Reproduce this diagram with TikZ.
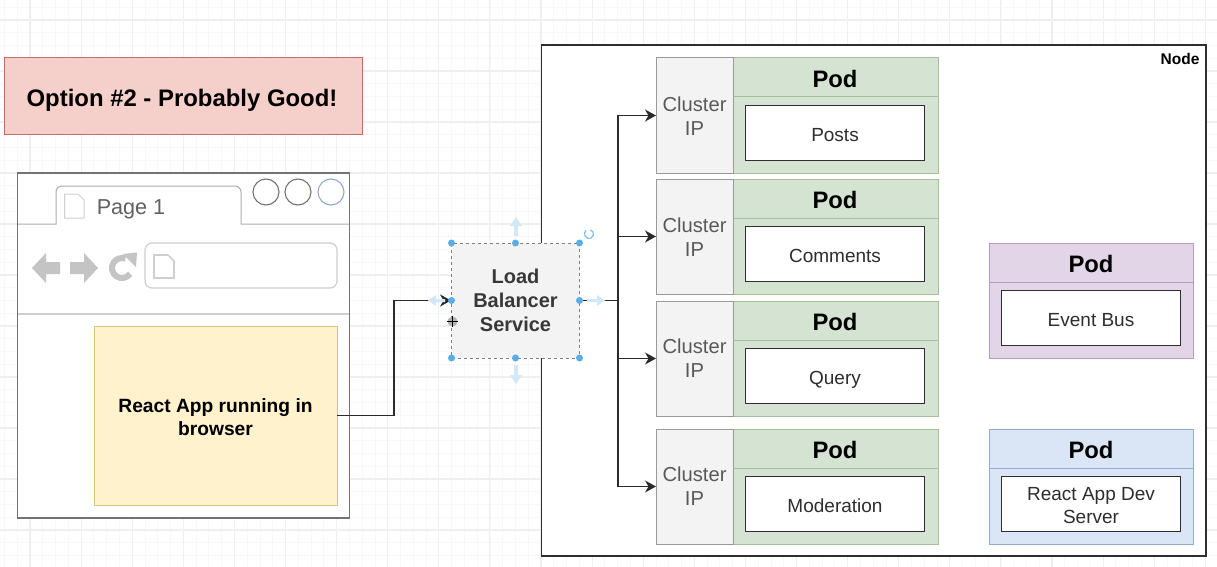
\documentclass[tikz,border=0pt]{standalone}
\usepackage{fontspec}
\setmainfont{Liberation Sans}
\usetikzlibrary{arrows.meta,calc}
\definecolor{gmin}{HTML}{F8F8F8}
\definecolor{gmaj}{HTML}{EFEFEF}
\definecolor{redf}{HTML}{F5CFC9}
\definecolor{redd}{HTML}{BC6F68}
\definecolor{yelf}{HTML}{FFF2CC}
\definecolor{yeld}{HTML}{D9C47C}
\definecolor{grnf}{HTML}{D5E4D2}
\definecolor{grnd}{HTML}{A5BF96}
\definecolor{purf}{HTML}{E1D5E7}
\definecolor{purd}{HTML}{B39CC0}
\definecolor{bluf}{HTML}{DAE6F6}
\definecolor{blud}{HTML}{92ABD0}
\definecolor{ipf}{HTML}{F3F3F3}
\definecolor{ipd}{HTML}{9A9A9A}
\definecolor{ink}{HTML}{2E2E2E}
\definecolor{handle}{HTML}{5AAEE6}
\definecolor{hfaint}{HTML}{D3E8F6}
\definecolor{icon}{HTML}{C4C4C4}
\definecolor{soft}{HTML}{CFCFCF}
\definecolor{wire}{HTML}{2A2A2A}
\newcommand{\lowtext}[2]{\raisebox{0pt}[\dimexpr\height+#1\relax][\depth]{\begin{tabular}{@{}c@{}}#2\end{tabular}}}
\tikzset{
  x=1pt,y=-1pt,
  podhead/.style={font=\fontsize{23.8}{26}\selectfont\bfseries,text=black},
  podname/.style={draw=ink,line width=1.4pt,fill=white,inner sep=0pt,outer sep=0pt,
     minimum width=179pt,minimum height=55pt,font=\fontsize{19}{23}\selectfont,text=ink},
  ipbox/.style={draw=ipd,line width=1pt,fill=ipf,inner sep=0pt,outer sep=0pt,minimum width=77pt,minimum height=115pt},
  wirearrow/.style={draw=wire,line width=1.5pt,-{Stealth[length=11pt,width=12pt,inset=3.5pt]}},
  wireline/.style={draw=wire,line width=1.5pt},
  handledot/.style={circle,fill=handle,inner sep=0pt,minimum size=7pt},
  winbtn/.style={circle,line width=1.1pt,minimum size=26pt,inner sep=0pt}
}
\newcommand{\podrow}[5]{%
  \path[fill=grnf,draw=grnd,line width=1pt] (#2,#3) rectangle ++(205,115);
  \draw[grnd,line width=1pt] (#2,#3+39) -- ++(205,0);
  \node[podhead] (#1head) at (#2+102,#3+21) {Pod};
  \node[podname] (#1pod) at (#2+102,#3+75) {\lowtext{7pt}{#4}};
  \node[ipbox] (#1ip) at (#2-38.5,#3+57.5) {};
  \node[text=black!65,align=center,font=\fontsize{20.2}{24}\selectfont] (#1iplabel) at (#2-38.5,#3+#5) {Cluster\\IP};
}
\begin{document}
\begin{tikzpicture}
\useasboundingbox (0,0) rectangle (1217,567);
\fill[white] (0,0) rectangle (1217,567);
% grid
\foreach \i in {-3,...,93}{\draw[gmin,line width=.8pt] ({30+\i*12.775},0) -- ++(0,567);}
\foreach \i in {-2,...,43}{\draw[gmin,line width=.8pt] (0,{20+\i*12.75}) -- ++(1217,0);}
\foreach \i in {0,...,23}{\draw[gmaj,line width=1.1pt] ({30+\i*51.1},0) -- ++(0,567);}
\foreach \i in {0,...,11}{\draw[gmaj,line width=1.1pt] (0,{20+\i*51}) -- ++(1217,0);}
% title
\node[draw=redd,line width=.9pt,fill=redf,minimum width=358pt,minimum height=77pt,inner sep=0pt,
  font=\fontsize{23.9}{28}\selectfont\bfseries,text=black] (title) at (183.5,96) {\hspace{-3pt}\lowtext{10pt}{Option \#2 - Probably Good!}};
% node frame
\node[draw=ink,line width=1.5pt,fill=white,inner sep=0pt,minimum width=664.5pt,minimum height=511pt] (frame) at (873.85,300.5) {};
\node[font=\fontsize{15.5}{17}\selectfont\bfseries,text=black] (nodelabel) at (1180,59) {Node};
% browser
\node[draw=black!55,line width=1.3pt,fill=white,inner sep=0pt,minimum width=332pt,minimum height=345pt] (browser) at (183.5,345.5) {};
\draw[black!32,line width=1pt] (18,224) -- (56,224) -- (56,192) arc[start angle=180,end angle=270,radius=6] -- (235,186) arc[start angle=270,end angle=360,radius=6] -- (241,224) -- (349,224);
\draw[soft,line width=1.2pt] (18,314) -- (349,314);
\node[font=\fontsize{21.6}{24}\selectfont,text=black!62] (page) at (131,209.5) {Page 1};
\draw[soft,line width=1pt] (64.5,194) -- (78,194) -- (84,200) -- (84,218) -- (64.5,218) -- cycle;
\node[winbtn,draw=black!55] (c1) at (266,192) {};
\node[winbtn,draw=black!55] (c2) at (298,192) {};
\node[winbtn,draw=blud] (c3) at (331,192) {};
% nav icons
\fill[icon] (32,268) -- (46,253) -- (46,262) -- (60,262) -- (60,274) -- (46,274) -- (46,283) -- cycle;
\fill[icon] (98,268) -- (84,253) -- (84,262) -- (70,262) -- (70,274) -- (84,274) -- (84,283) -- cycle;
\draw[icon,line width=6pt] ($(122,268)+(35:10)$) arc[start angle=35,end angle=290,radius=10];
\fill[icon] (123,254) -- (137,252.5) -- (136,267) -- cycle;
\draw[soft,line width=1.2pt,rounded corners=7pt] (145,243) rectangle (337,288);
\draw[soft,line width=1.6pt] (154,255) -- (168,255) -- (174,261) -- (174,278) -- (154,278) -- cycle;
% app box
\node[draw=yeld,line width=.9pt,fill=yelf,minimum width=243pt,minimum height=179pt,inner sep=0pt,
  font=\fontsize{19.2}{23}\selectfont\bfseries,text=black] (app) at (215.5,415.5) {\lowtext{7pt}{React App running in\\browser}};
% Pods
\podrow{posts}{733}{58}{Posts}{58}
\podrow{comments}{733}{179}{Comments}{58}
\podrow{query}{733}{301}{Query}{57}
\podrow{moderation}{733}{429}{Moderation}{57}
% load balancer
\node[draw=black!50,dashed,line width=.9pt,fill=ipf,minimum width=128pt,minimum height=115pt,inner sep=0pt,align=center,
  font=\fontsize{20}{24}\selectfont\bfseries,text=black!78] (lb) at (515.5,300.5) {Load\\Balancer\\Service};
% selection hints
\fill[hfaint] (516,217) -- (522,226) -- (518,226) -- (518,236) -- (514,236) -- (514,226) -- (510,226) -- cycle;
\fill[hfaint] (516,384) -- (522,375) -- (518,375) -- (518,365) -- (514,365) -- (514,375) -- (510,375) -- cycle;
% connectors
\coordinate (bus) at (618,300.5);
\draw[wirearrow] (app.east) -- (394,415.5) -- (394,300.5) -- (lb.west);
\draw[wireline] (lb.east) -- (bus);
\draw[wirearrow] (bus) |- (postsip.west);
\draw[wirearrow] (bus) |- (commentsip.west);
\draw[wirearrow] (bus) |- (queryip.west);
\draw[wirearrow] (bus) |- (moderationip.west);
\fill[hfaint] (428,300.5) -- (436,295) -- (436,299) -- (445,299) -- (445,302) -- (436,302) -- (436,306) -- cycle;
\fill[hfaint] (605,300.5) -- (597,295) -- (597,299) -- (587,299) -- (587,302) -- (597,302) -- (597,306) -- cycle;
% selection handles
\foreach \n/\p in {h1/{451.5,243},h2/{515.5,243},h3/{579.5,243},h4/{451.5,300.5},h5/{579.5,300.5},h6/{451.5,358},h7/{515.5,358},h8/{579.5,358}}{
  \node[handledot] (\n) at (\p) {};}
\draw[handle!80,line width=1.2pt] ($(589,234)+(-70:4.5)$) arc[start angle=-70,end angle=230,radius=4.5];
% cursor
\fill[black!30] (452.5,321.5) circle[radius=5];
\draw[black,line width=1.5pt] (452.5,316) -- (452.5,327) (447,321.5) -- (458,321.5);
% other pods
\path[fill=purf,draw=purd,line width=1pt] (989,243) rectangle ++(204,115);
\draw[purd,line width=1pt] (989,282) -- ++(204,0);
\node[podhead] (ebhead) at (1091,264) {Pod};
\node[podname] (eb) at (1091,318) {\lowtext{7pt}{Event Bus}};
\path[fill=bluf,draw=blud,line width=1pt] (989,429) rectangle ++(204,115);
\draw[blud,line width=1pt] (989,468) -- ++(204,0);
\node[podhead] (rdhead) at (1091,450) {Pod};
\node[podname] (rd) at (1091,504) {\lowtext{7pt}{React App Dev\\Server}};
\end{tikzpicture}
\end{document}
